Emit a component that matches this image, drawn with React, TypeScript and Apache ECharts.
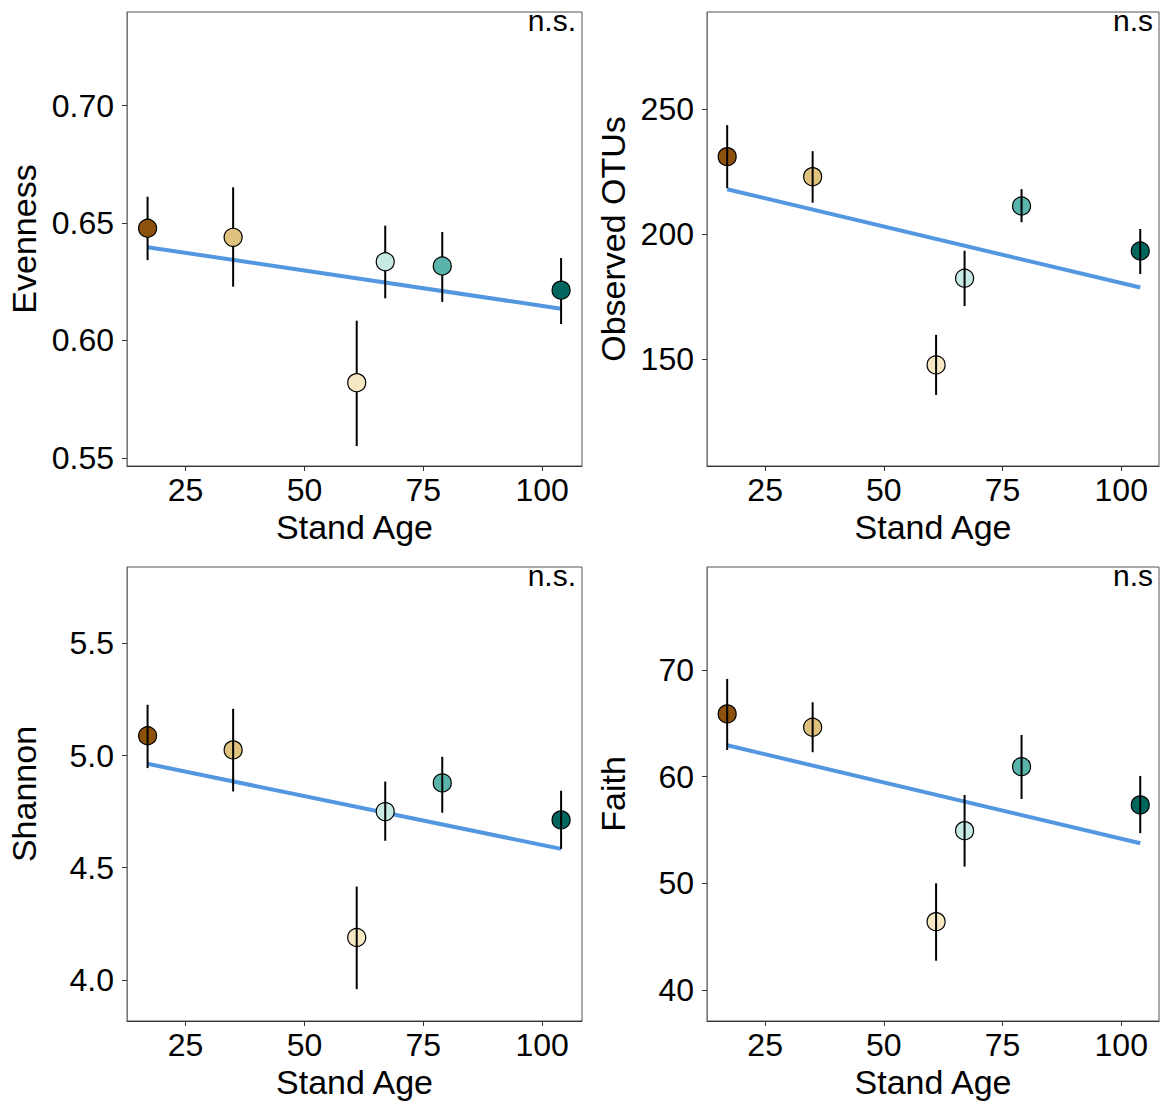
import React, { useEffect, useRef } from "react";
import * as echarts from "echarts";

// ---------- data ----------
const standAge = [17, 35, 61, 67, 79, 104];
const pointColors = ["#8C510A", "#DFC27D", "#F6E8C3", "#C7EAE5", "#5AB4AC", "#01665E"];
const xTicks = [25, 50, 75, 100];
const fitX = [17, 104];

const evenness = [0.6478, 0.6439, 0.582, 0.6335, 0.6317, 0.6214];
const evennessLo = [0.6342, 0.6229, 0.555, 0.6179, 0.6164, 0.607];
const evennessHi = [0.6612, 0.6652, 0.6084, 0.6489, 0.6462, 0.6351];
const evennessFit = [0.6397, 0.6135];
const evennessTicks = [0.55, 0.6, 0.65, 0.7];

const otus = [230.9, 222.9, 147.7, 182.3, 211.2, 193.2];
const otusLo = [218.3, 212.5, 135.7, 171.2, 204.7, 184.0];
const otusHi = [243.5, 233.1, 159.7, 193.3, 217.9, 202.0];
const otusFit = [217.9, 178.6];
const otusTicks = [150, 200, 250];

const shannon = [5.088, 5.025, 4.189, 4.75, 4.878, 4.713];
const shannonLo = [4.944, 4.84, 3.959, 4.62, 4.745, 4.584];
const shannonHi = [5.226, 5.208, 4.416, 4.884, 4.994, 4.843];
const shannonFit = [4.963, 4.584];
const shannonTicks = [4.0, 4.5, 5.0, 5.5];

const faith = [65.88, 64.63, 46.41, 54.94, 60.94, 57.35];
const faithLo = [62.5, 62.29, 42.75, 51.57, 57.91, 54.7];
const faithHi = [69.16, 66.97, 50.01, 58.28, 63.91, 60.07];
const faithFit = [62.94, 53.76];
const faithTicks = [40, 50, 60, 70];

// ---------- layout ----------
const FONT = "'Liberation Sans', Arial, sans-serif";

type Panel = {
  name: string;
  vals: number[];
  lo: number[];
  hi: number[];
  fit: number[];
  ticks: number[];
  decimals: number;
  yMin: number;
  yMax: number;
  xMin: number;
  xMax: number;
  grid: { left: number; top: number; width: number; height: number };
  nameGap: number;
  label: string;
  barsOnTop: boolean;
};

const panels: Panel[] = [
  {
    name: "Evenness", vals: evenness, lo: evennessLo, hi: evennessHi, fit: evennessFit,
    ticks: evennessTicks, decimals: 2, yMin: 0.5465, yMax: 0.7399, xMin: 12.67, xMax: 108.4,
    grid: { left: 127, top: 12, width: 455, height: 454 }, nameGap: 86, label: "n.s.", barsOnTop: false,
  },
  {
    name: "Observed OTUs", vals: otus, lo: otusLo, hi: otusHi, fit: otusFit,
    ticks: otusTicks, decimals: 0, yMin: 107.3, yMax: 288.7, xMin: 12.75, xMax: 107.95,
    grid: { left: 707, top: 12, width: 452, height: 454 }, nameGap: 77, label: "n.s", barsOnTop: true,
  },
  {
    name: "Shannon", vals: shannon, lo: shannonLo, hi: shannonHi, fit: shannonFit,
    ticks: shannonTicks, decimals: 1, yMin: 3.817, yMax: 5.84, xMin: 12.67, xMax: 108.4,
    grid: { left: 127, top: 567, width: 455, height: 454 }, nameGap: 86, label: "n.s.", barsOnTop: true,
  },
  {
    name: "Faith", vals: faith, lo: faithLo, hi: faithHi, fit: faithFit,
    ticks: faithTicks, decimals: 0, yMin: 37.1, yMax: 79.65, xMin: 12.75, xMax: 107.95,
    grid: { left: 707, top: 567, width: 452, height: 454 }, nameGap: 77, label: "n.s", barsOnTop: true,
  },
];

function buildOption() {
  const grid: any[] = [];
  const xAxis: any[] = [];
  const yAxis: any[] = [];
  const series: any[] = [];
  const graphic: any[] = [];

  panels.forEach((p, i) => {
    grid.push({
      ...p.grid,
      show: true,
      borderColor: "#555",
      borderWidth: 1,
      backgroundColor: "#fff",
    });
    xAxis.push({
      type: "value",
      gridIndex: i,
      min: p.xMin,
      max: p.xMax,
      name: "Stand Age",
      nameLocation: "middle",
      nameGap: 44,
      nameTextStyle: { fontFamily: FONT, fontSize: 34, color: "#000" },
      splitLine: { show: false },
      axisLine: { show: true, lineStyle: { color: "#333", width: 1 } },
      axisTick: { show: true, length: 5, lineStyle: { color: "#333" }, customValues: xTicks },
      axisLabel: {
        fontFamily: FONT, fontSize: 32, color: "#000", margin: 8,
        customValues: xTicks, formatter: (v: number) => String(v),
      },
    });
    yAxis.push({
      type: "value",
      gridIndex: i,
      min: p.yMin,
      max: p.yMax,
      name: p.name,
      nameLocation: "middle",
      nameGap: p.nameGap,
      nameTextStyle: { fontFamily: FONT, fontSize: 34, color: "#000" },
      splitLine: { show: false },
      axisLine: { show: true, lineStyle: { color: "#777", width: 1 } },
      axisTick: { show: true, length: 5, lineStyle: { color: "#333" }, customValues: p.ticks },
      axisLabel: {
        fontFamily: FONT, fontSize: 32, color: "#000", margin: 13,
        customValues: p.ticks, formatter: (v: number) => v.toFixed(p.decimals),
      },
    });

    // regression line
    series.push({
      type: "line",
      xAxisIndex: i,
      yAxisIndex: i,
      data: fitX.map((x, k) => [x, p.fit[k]]),
      symbol: "none",
      lineStyle: { color: "#5297DF", width: 4 },
      z: 2,
      silent: true,
    });
    // points
    series.push({
      type: "scatter",
      xAxisIndex: i,
      yAxisIndex: i,
      symbol: "circle",
      symbolSize: 18,
      data: standAge.map((x, k) => ({
        value: [x, p.vals[k]],
        itemStyle: { color: pointColors[k], borderColor: "#000", borderWidth: 1.2, opacity: 1 },
      })),
      itemStyle: { opacity: 1 },
      z: 3,
      silent: true,
    });
    // error bars
    series.push({
      type: "custom",
      xAxisIndex: i,
      yAxisIndex: i,
      data: standAge.map((x, k) => [x, p.lo[k], p.hi[k]]),
      encode: { x: 0, y: [1, 2] },
      renderItem: (_params: any, api: any) => {
        const x = api.value(0);
        const a = api.coord([x, api.value(1)]);
        const b = api.coord([x, api.value(2)]);
        return {
          type: "line",
          shape: { x1: a[0], y1: a[1], x2: b[0], y2: b[1] },
          style: { stroke: "#000", lineWidth: 2 },
        };
      },
      z: p.barsOnTop ? 4 : 2.5,
      silent: true,
    });

    graphic.push({
      type: "text",
      x: p.grid.left + p.grid.width - 6,
      y: p.grid.top + 8,
      style: {
        text: p.label,
        fontFamily: FONT,
        fontSize: 30,
        fill: "#000",
        textAlign: "right",
        textVerticalAlign: "middle",
      },
      z: 10,
    });
  });

  return {
    animation: false,
    backgroundColor: "#fff",
    grid,
    xAxis,
    yAxis,
    series,
    graphic,
  };
}

export default function App() {
  const ref = useRef<HTMLDivElement>(null);
  useEffect(() => {
    if (!ref.current) return;
    const chart = echarts.init(ref.current, undefined, { renderer: "svg" });
    chart.setOption(buildOption() as any);
    return () => chart.dispose();
  }, []);
  return (
    <div
      ref={ref}
      style={{ position: "absolute", left: 0, top: 0, width: 1166, height: 1104, background: "#fff" }}
    />
  );
}
